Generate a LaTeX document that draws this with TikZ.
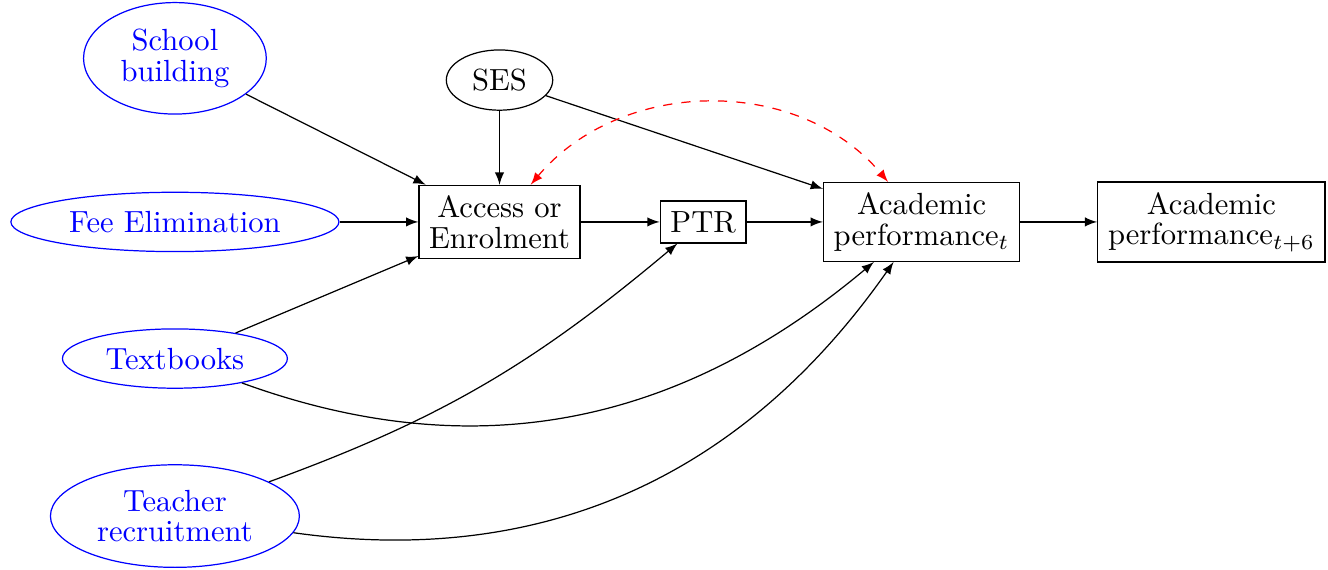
\documentclass[tikz,border=0pt]{standalone}
\usepackage{tikz}
\usepackage{amsmath}
\usetikzlibrary{shapes.geometric}
\tikzstyle{cause}=[ellipse,draw=blue,text=blue,align=center,font=\fontsize{10}{10}\selectfont]
\tikzstyle{confounder}=[ellipse,draw,align=center,font=\fontsize{10}{10}\selectfont]
\tikzstyle{outcome}=[rectangle,draw,align=center,font=\fontsize{10}{10}\selectfont]

\begin{document}
\begin{tikzpicture}
\useasboundingbox (0,0) rectangle (15.26,-6.54);

\node[cause] (school)   at (2.01, -0.67) {School\\building};
\node[cause] (fee)      at (2.01, -2.55) {Fee Elimination};
\node[cause] (textbook) at (2.01, -4.12) {Textbooks};
\node[cause] (teacher)  at (2.01, -5.93) {Teacher\\recruitment};

\node[confounder] (ses) at (5.74, -0.92) {SES};

\node[outcome] (access)    at (5.74, -2.55)  {Access or\\Enrolment};
\node[outcome] (ptr)       at (8.08, -2.55)  {PTR};
\node[outcome] (perf)      at (10.59, -2.55) {Academic\\performance$_t$};
\node[outcome] (perflater) at (13.92, -2.55) {Academic\\performance$_{t+6}$};

\draw[-latex] (school) -- (access);
\draw[-latex] (fee) -- (access);
\draw[-latex] (textbook) -- (access);
\draw[-latex] (ses) -- (access);
\draw[-latex] (ses) -- (perf);
\draw[-latex] (access) -- (ptr);
\draw[-latex] (ptr) -- (perf);
\draw[-latex] (perf) -- (perflater);

\draw[-latex] (textbook) to[out=-20, in=-140] (perf);
\draw[-latex] (teacher) to[out=20, in=-140] (ptr);
\draw[-latex] (teacher) to[out=-8, in=-125] (perf);

\draw[latex-latex, red, dashed] (access) to[out=50, in=130] (perf);

\end{tikzpicture}
\end{document}
